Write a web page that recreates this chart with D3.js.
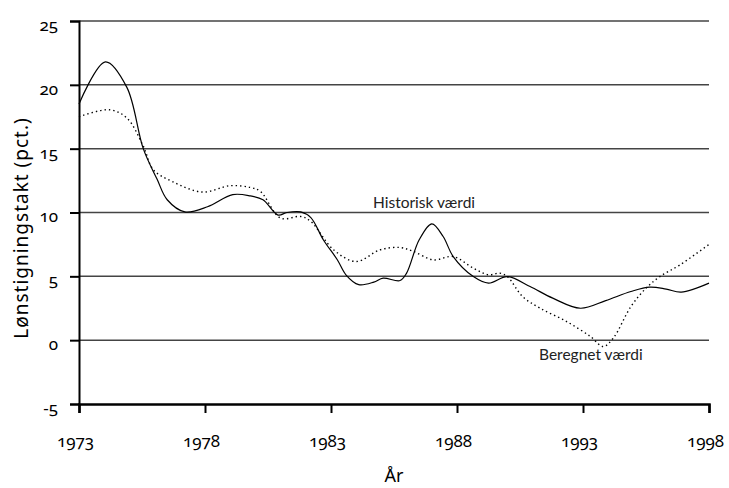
<!DOCTYPE html>
<html lang="da">
<head>
  <meta charset="UTF-8">
  <title>Lønstigningstakt</title>
  <style>
    body { margin: 0; background: #fff; }
    svg { display: block; font-family: Lato, "Open Sans", sans-serif; }
    .tick text { font-size: 17px; fill: #000; font-family: "Noto Sans", Lato, sans-serif; font-feature-settings: "onum"; }
    .lbl { font-size: 15.5px; fill: #222; }
  </style>
</head>
<body>
  <svg id="chart" width="729" height="488"></svg>

  <script src="https://cdn.jsdelivr.net/npm/d3@7"></script>
  <script>
    // Historisk værdi (solid)
    const histYears = [1973, 1974.05, 1974.9, 1975.55, 1976.1, 1976.5, 1977.2, 1978.1, 1979.1, 1979.8,
      1980.3, 1980.9, 1981.25, 1981.8, 1982.2, 1982.7, 1983.25, 1983.6, 1984.1, 1984.7, 1985.07,
      1985.74, 1986.0, 1986.5, 1987.0, 1987.45, 1987.85, 1988.65, 1989.25, 1990.0, 1990.9, 1991.8,
      1992.9, 1993.9, 1994.9, 1995.65, 1996.3, 1996.9, 1998];
    const histValues = [18.5, 21.8, 19.8, 15.0, 12.6, 11.0, 10.05, 10.45, 11.4, 11.3,
      11.0, 9.8, 10.0, 10.05, 9.6, 7.85, 6.3, 5.1, 4.35, 4.55, 4.86,
      4.67, 5.25, 7.86, 9.11, 8.12, 6.55, 4.98, 4.47, 4.98, 4.2, 3.29,
      2.5, 3.1, 3.81, 4.15, 4.0, 3.76, 4.47];

    // Beregnet værdi (dotted)
    const beregYears = [1973, 1974.2, 1974.9, 1975.55, 1975.95, 1976.7, 1977.9, 1979.0, 1979.8,
      1980.2, 1981.0, 1981.8, 1982.2, 1983.1, 1984.0, 1984.95, 1985.74, 1986.27, 1987.06, 1987.85,
      1988.65, 1989.25, 1989.7, 1990.0, 1990.6, 1991.3, 1992.35, 1993.3, 1993.8, 1994.2, 1994.9,
      1995.5, 1996.05, 1996.85, 1998];
    const beregValues = [17.5, 18.05, 17.4, 15.2, 13.35, 12.43, 11.6, 12.1, 11.96,
      11.65, 9.56, 9.69, 9.3, 7.08, 6.16, 7.08, 7.26, 6.95, 6.29, 6.55,
      5.64, 5.12, 5.25, 4.98, 3.42, 2.5, 1.46, 0.28, -0.5, 0.16, 2.63,
      4.07, 4.98, 5.9, 7.5];

    const xTicks = [1973, 1978, 1983, 1988, 1993, 1998];
    const yTicks = [-5, 0, 5, 10, 15, 20, 25];

    const svg = d3.select("#chart");
    const plotLeft = 79, plotRight = 709, plotTop = 21, plotBottom = 404;

    const x = d3.scaleLinear().domain([1973, 1998]).range([plotLeft, plotRight]);
    const y = d3.scaleLinear().domain([-5, 25]).range([plotBottom, plotTop]);

    // gridlines
    svg.append("g")
      .selectAll("line")
      .data(yTicks.filter(d => d > -5))
      .join("line")
      .attr("x1", plotLeft).attr("x2", plotRight)
      .attr("y1", d => y(d)).attr("y2", d => y(d))
      .attr("stroke", "#444").attr("stroke-width", 1.5);

    // y axis
    const yAxis = svg.append("g")
      .attr("transform", `translate(${plotLeft},0)`)
      .call(d3.axisLeft(y).tickValues(yTicks).tickSize(9).tickPadding(12).tickFormat(d => String(d)));
    yAxis.select(".domain").attr("stroke", "#000").attr("stroke-width", 2);
    yAxis.selectAll(".tick line").attr("stroke-width", 2);
    yAxis.selectAll(".tick text").attr("dy", "0.55em");

    // x axis
    const xAxis = svg.append("g")
      .attr("transform", `translate(0,${plotBottom})`)
      .call(d3.axisBottom(x).tickValues(xTicks).tickSize(9).tickPadding(22).tickFormat(d => String(d)));
    xAxis.select(".domain").attr("stroke", "#000").attr("stroke-width", 2.5);
    xAxis.selectAll(".tick line").attr("stroke-width", 2);
    xAxis.selectAll(".tick text").attr("dx", -4);

    const line = d3.line()
      .x(d => x(d[0]))
      .y(d => y(d[1]))
      .curve(d3.curveCatmullRom.alpha(0.5));

    svg.append("path")
      .datum(d3.zip(beregYears, beregValues))
      .attr("fill", "none")
      .attr("stroke", "#000")
      .attr("stroke-width", 1.4)
      .attr("stroke-dasharray", "1.4,3")
      .attr("d", line);

    svg.append("path")
      .datum(d3.zip(histYears, histValues))
      .attr("fill", "none")
      .attr("stroke", "#000")
      .attr("stroke-width", 1.2)
      .attr("d", line);

    // labels
    svg.append("text").attr("class", "lbl")
      .attr("x", 373).attr("y", 208).text("Historisk værdi");
    svg.append("text").attr("class", "lbl")
      .attr("x", 539).attr("y", 360).text("Beregnet værdi");

    svg.append("text")
      .attr("transform", "translate(28,228) rotate(-90)")
      .attr("text-anchor", "middle")
      .attr("font-family", "'Noto Sans', sans-serif")
      .attr("font-size", 19)
      .attr("letter-spacing", 1)
      .text("Lønstigningstakt (pct.)");

    svg.append("text")
      .attr("x", (plotLeft + plotRight) / 2)
      .attr("y", 482)
      .attr("text-anchor", "middle")
      .attr("font-family", "'Noto Sans', sans-serif")
      .attr("font-size", 18)
      .text("År");
  </script>
</body>
</html>
